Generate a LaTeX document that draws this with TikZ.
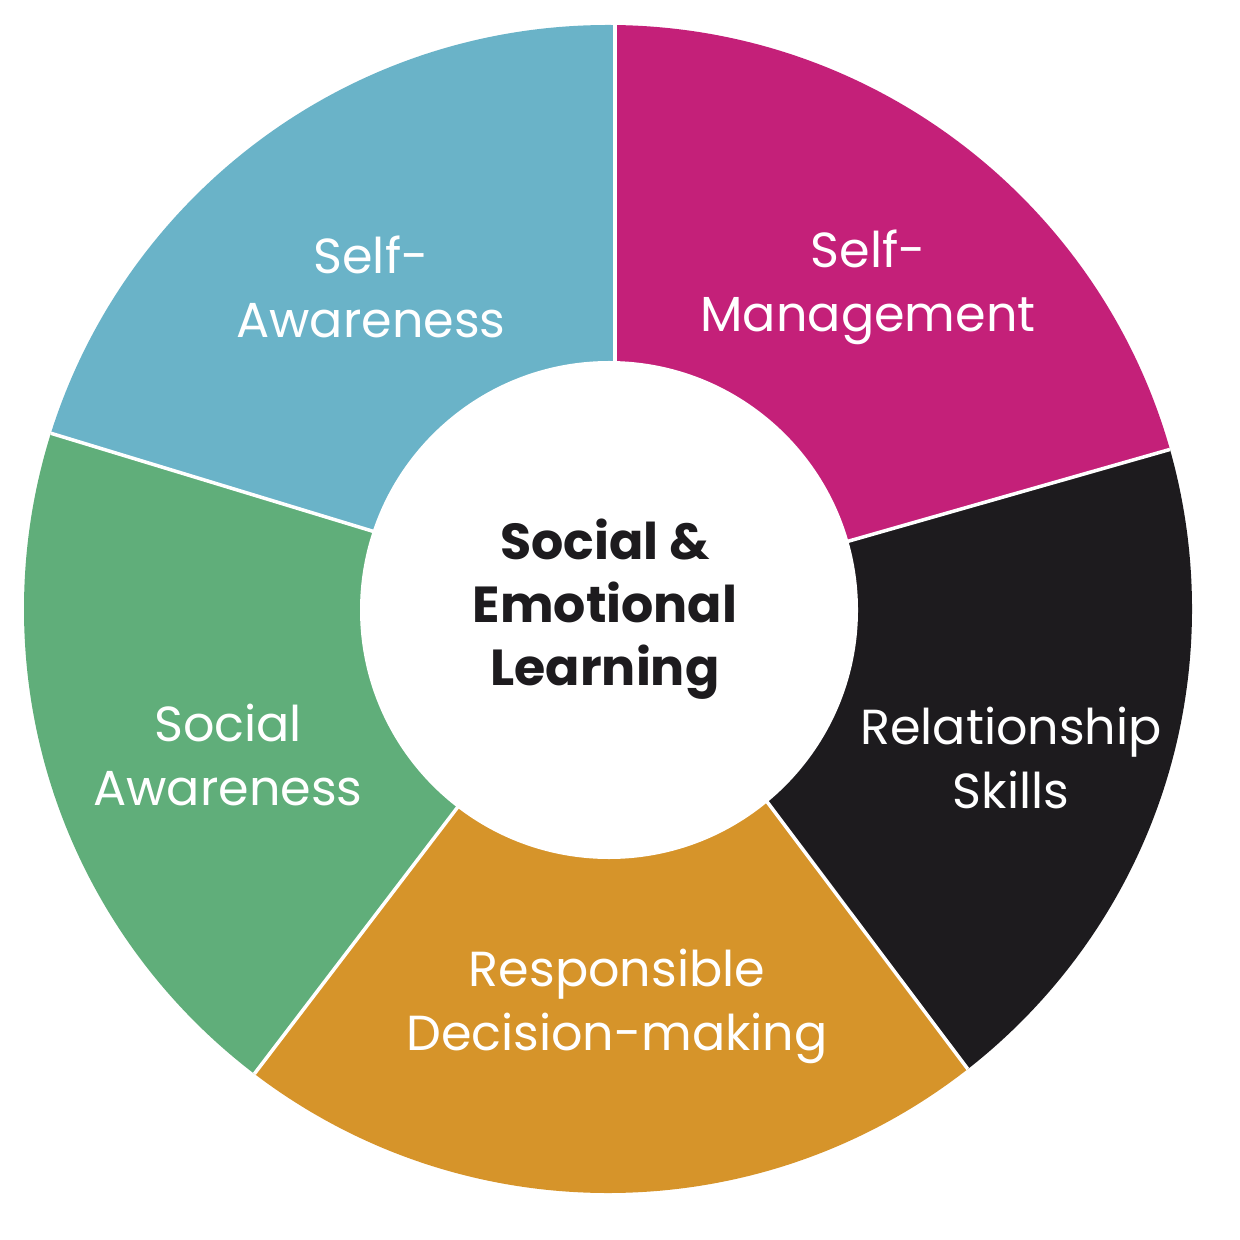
\documentclass[tikz,border=0pt]{standalone}
\usepackage{fontspec}
\setmainfont{Poppins}
\usetikzlibrary{calc}
\definecolor{segblue}{HTML}{6AB3C8}
\definecolor{segmag}{HTML}{C42079}
\definecolor{segblack}{HTML}{1D1B1E}
\definecolor{segorange}{HTML}{D6942A}
\definecolor{seggreen}{HTML}{60AE7A}
\tikzset{
  lbl/.style={text=white, align=center, font=\fontsize{14}{18.2}\selectfont, inner sep=0pt},
  ctr/.style={text=segblack, align=center, font=\bfseries\fontsize{14.4}{17.9}\selectfont, inner sep=0pt},
  gap/.style={draw=white, line width=1pt}
}
\begin{document}
\begin{tikzpicture}[x=0.01cm,y=-0.01cm]
\useasboundingbox (0,0) rectangle (1240,1240);
\coordinate (C) at (608,609);
\coordinate (I1) at (615,362); \coordinate (O1) at (615,25);
\coordinate (I2) at (849,541); \coordinate (O2) at (1168,450);
\coordinate (I3) at (768,803); \coordinate (O3) at (967,1068);
\coordinate (I4) at (457,808); \coordinate (O4) at (255,1073);
\coordinate (I5) at (372,531); \coordinate (O5) at (50,433);
\foreach \k in {1,...,5}{
  \coordinate (F\k) at ($(I\k)!3!(O\k)$);
  \coordinate (G\k) at ($(I\k)!-0.3!(O\k)$);
}
\begin{scope}
\clip (608,609) circle (584);
\fill[segmag] (C) -- (I1) -- (F1) -- (1800,-600) -- (F2) -- (I2) -- cycle;
\fill[segblack] (C) -- (I2) -- (F2) -- (1900,1400) -- (F3) -- (I3) -- cycle;
\fill[segorange] (C) -- (I3) -- (F3) -- (600,1900) -- (F4) -- (I4) -- cycle;
\fill[seggreen] (C) -- (I4) -- (F4) -- (-700,1300) -- (F5) -- (I5) -- cycle;
\fill[segblue] (C) -- (I5) -- (F5) -- (-500,-600) -- (F1) -- (I1) -- cycle;
\foreach \k in {1,...,5}{ \draw[gap] (G\k) -- (F\k); }
\end{scope}
\fill[white] (609,610) circle (249);
\node[lbl] (sa) at (371,287) {Self-\\Awareness};
\node[lbl] (sm) at (868,287) {Self-\\Management};
\node[lbl] (rs) at (1011,758) {Relationship\\Skills};
\node[lbl] (rd) at (617,1006) {Responsible\\Decision-making};
\node[lbl] (soa) at (228,755) {Social\\Awareness};
\node[ctr] (sel) at (605,609) {Social \&\\Emotional\\Learning};
\end{tikzpicture}
\end{document}
